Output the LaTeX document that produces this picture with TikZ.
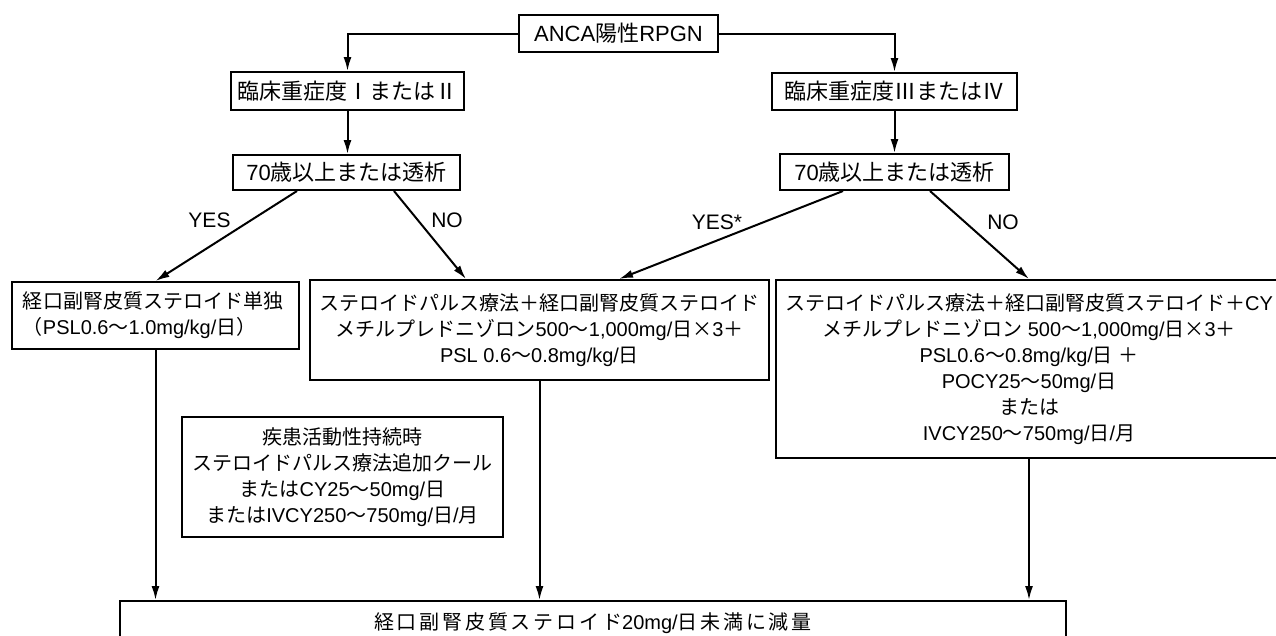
\documentclass[tikz,border=0pt]{standalone}
\usepackage{fontspec}
\setmainfont{Liberation Sans}
\newfontfamily\lat{Liberation Sans}
\newfontfamily\cjk{Noto Sans CJK JP}
\newfontfamily\cjkwide[LetterSpace=14]{Noto Sans CJK JP}
\usetikzlibrary{arrows.meta}
\newXeTeXintercharclass\CJKcls
\newcount\cjkcc
\def\setcjkrange#1#2{\cjkcc=#1\relax\loop\XeTeXcharclass\cjkcc=\CJKcls\relax\advance\cjkcc by 1\relax\ifnum\cjkcc<#2\relax\repeat}
\setcjkrange{"00D7}{"00D8}
\setcjkrange{"2160}{"2180}
\setcjkrange{"3000}{"A000}
\setcjkrange{"FF00}{"FFF0}
\XeTeXinterchartoks 0 \CJKcls = {\cjk}
\XeTeXinterchartoks 4095 \CJKcls = {\cjk}
\XeTeXinterchartoks \CJKcls 0 = {\lat}
\XeTeXinterchartoks \CJKcls 4095 = {\lat}
\XeTeXinterchartokenstate=1
\tikzset{
  box/.style={draw, line width=2pt, inner sep=0pt, align=center,
    font=\fontsize{20}{26}\selectfont},
  bigbox/.style={box, font=\fontsize{22}{26}\selectfont},
  arr/.style={line width=2pt, -{Latex[length=14pt,width=8pt]}},
  lbl/.style={inner sep=0pt, font=\fontsize{21}{26}\selectfont},
}
\begin{document}
\begin{tikzpicture}[x=1pt,y=-1pt]
\useasboundingbox (0,0) rectangle (1276,635);
\node[bigbox, minimum width=199pt, minimum height=37pt] (top) at (618.5,33.5) {ANCA陽性RPGN};
\node[bigbox, minimum width=233pt, minimum height=38pt] (l1) at (347.5,91) {臨床重症度ⅠまたはⅡ};
\node[bigbox, minimum width=245pt, minimum height=37pt] (r1) at (894.5,91.5) {臨床重症度ⅢまたはⅣ};
\node[bigbox, minimum width=227pt, minimum height=35pt] (l2) at (346.5,172.5) {70歳以上または透析};
\node[bigbox, minimum width=229pt, minimum height=36pt] (r2) at (894.5,172) {70歳以上または透析};
\node[box, text width=265pt, inner xsep=11pt, align=left, minimum height=67pt] (b4) at (155.5,315.5)
  {経口副腎皮質ステロイド単独\\（PSL0.6〜1.0mg/kg/日）};
\node[box, minimum width=459pt, minimum height=100pt] (b5) at (539.5,330)
  {ステロイドパルス療法＋経口副腎皮質ステロイド\\メチルプレドニゾロン500〜1,000mg/日×3＋\\PSL 0.6〜0.8mg/kg/日};
\node[box, minimum width=506pt, minimum height=178pt] (b6) at (1029,369)
  {ステロイドパルス療法＋経口副腎皮質ステロイド＋CY\\メチルプレドニゾロン 500〜1,000mg/日×3＋\\PSL0.6〜0.8mg/kg/日 ＋\\POCY25〜50mg/日\\または\\IVCY250〜750mg/日/月};
\node[box, minimum width=321pt, minimum height=120pt] (b7) at (342.5,477)
  {疾患活動性持続時\\ステロイドパルス療法追加クール\\またはCY25〜50mg/日\\またはIVCY250〜750mg/日/月};
\node[box, minimum width=946pt, minimum height=44pt,
  font=\fontsize{20}{26}\selectfont\let\cjk\cjkwide] (bot) at (593,623)
  {経口副腎皮質ステロイド20mg/日未満に減量};
\node[lbl] (yes1) at (209.5,220) {YES};
\node[lbl] (no1) at (447,220) {NO};
\node[lbl] (yes2) at (717,222) {YES*};
\node[lbl] (no2) at (1003,222) {NO};
\draw[arr] (top.west) -| (l1.north);
\draw[arr] (top.east) -| (r1.north);
\draw[arr] (l1.south) -- (l1.south |- l2.north);
\draw[arr] (r1.south) -- (r1.south |- r2.north);
\draw[arr] ([xshift=-49.5pt]l2.south) -- (b4.north);
\draw[arr] ([xshift=47.5pt]l2.south) -- ([xshift=157pt]b5.north west);
\draw[arr] ([xshift=-51.5pt]r2.south) -- ([xshift=310pt]b5.north west);
\draw[arr] ([xshift=35.5pt]r2.south) -- (b6.north);
\draw[arr] (b4.south) -- (b4.south |- bot.north);
\draw[arr] (b5.south) -- (b5.south |- bot.north);
\draw[arr] (b6.south) -- (b6.south |- bot.north);
\end{tikzpicture}
\end{document}
